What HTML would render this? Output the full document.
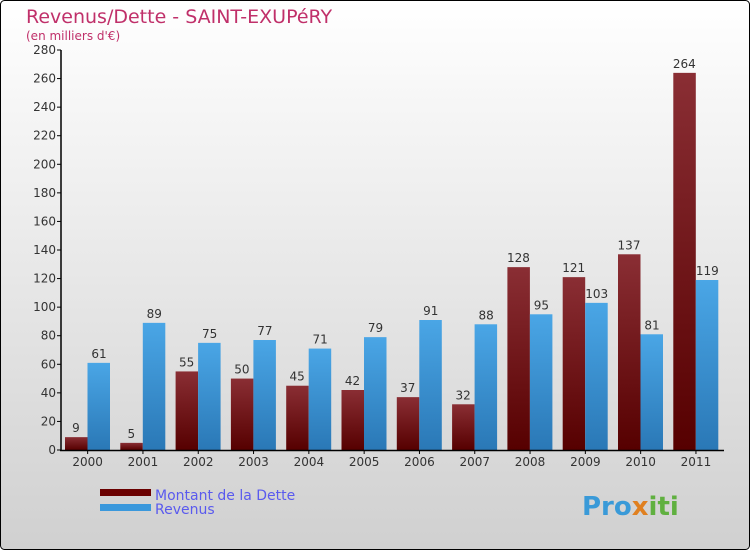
<!DOCTYPE html>
<html><head><meta charset="utf-8"><style>
body{margin:0}
svg text{font-family:"DejaVu Sans","Liberation Sans",sans-serif}
</style></head><body>
<svg width="750" height="550" xmlns="http://www.w3.org/2000/svg">
<defs>
<linearGradient id="bg" x1="0" y1="0" x2="0" y2="1"><stop offset="0" stop-color="#ffffff"/><stop offset="1" stop-color="#d0d0d0"/></linearGradient>
<linearGradient id="gd" x1="0" y1="0" x2="0" y2="1"><stop offset="0" stop-color="#8a2e34"/><stop offset="1" stop-color="#560000"/></linearGradient>
<linearGradient id="gr" x1="0" y1="0" x2="0" y2="1"><stop offset="0" stop-color="#4aa6e6"/><stop offset="1" stop-color="#2a78b6"/></linearGradient>
</defs>
<rect x="0.5" y="0.5" width="749" height="549" rx="4" fill="url(#bg)" stroke="#000"/>
<text x="26" y="23" font-size="19" fill="#c0306a">Revenus/Dette - SAINT-EXUPéRY</text>
<text x="26" y="40" font-size="12" fill="#c0306a">(en milliers d'€)</text>
<g id="plot"></g>
<rect x="100" y="489" width="51" height="7" fill="#6a0000"/>
<rect x="100" y="504" width="51" height="7" fill="#3a98dc"/>
<text x="155" y="500" font-size="14" fill="#5a5aee">Montant de la Dette</text>
<text x="155" y="514" font-size="14" fill="#5a5aee">Revenus</text>
<text x="582" y="515" font-size="26" font-weight="bold" fill="#3a9ad8">Pro<tspan fill="#e08020">x</tspan><tspan fill="#60b040">iti</tspan></text>
</svg>
<script>
const years=["2000","2001","2002","2003","2004","2005","2006","2007","2008","2009","2010","2011"];
const dette=[9,5,55,50,45,42,37,32,128,121,137,264];
const revenus=[61,89,75,77,71,79,91,88,95,103,81,119];
const yTicks=[0,20,40,60,80,100,120,140,160,180,200,220,240,260,280];
const NS="http://www.w3.org/2000/svg";
const g=document.getElementById('plot');
const x0=60,gw=55.3,y0=450,yMax=280,ph=400;
const y=v=>y0-v/yMax*ph;
function el(t,a,txt){const e=document.createElementNS(NS,t);for(const k in a)e.setAttribute(k,a[k]);if(txt!==undefined)e.textContent=txt;g.appendChild(e);return e;}
yTicks.forEach(t=>{
 let l=el('line',{x1:57,x2:61,y1:y(t),y2:y(t),stroke:'#000'});
 
 
 let tx=el('text',{x:56,y:y(t)+4,'font-size':12,'text-anchor':'end',fill:'#333'},t);
 
 
});
years.forEach((yr,i)=>{
 const gx=x0+i*gw, c=gx+gw/2;
 const b1=el('rect',{x:gx+5,y:y(dette[i]),width:22.5,height:y0-y(dette[i]),fill:'url(#gd)'});
 
 
 const b2=el('rect',{x:gx+27.5,y:y(revenus[i]),width:22.5,height:y0-y(revenus[i]),fill:'url(#gr)'});
 
 
 const v1=el('text',{x:gx+16,y:y(dette[i])-5,'font-size':12,'text-anchor':'middle',fill:'#333'},dette[i]);
 
 
 const v2=el('text',{x:gx+39,y:y(revenus[i])-5,'font-size':12,'text-anchor':'middle',fill:'#333'},revenus[i]);
 
 
 const tk=el('line',{x1:c,x2:c,y1:450,y2:454,stroke:'#000'});
 
 
 const lb=el('text',{x:c,y:466,'font-size':12,'text-anchor':'middle',fill:'#333'},yr);
 
 
});
const ya=el('line',{x1:61,x2:61,y1:50,y2:451,stroke:'#000','stroke-width':1.5});


const xa=el('line',{x1:60,x2:724,y1:450.5,y2:450.5,stroke:'#000','stroke-width':1.5});


</script>
</body></html>
